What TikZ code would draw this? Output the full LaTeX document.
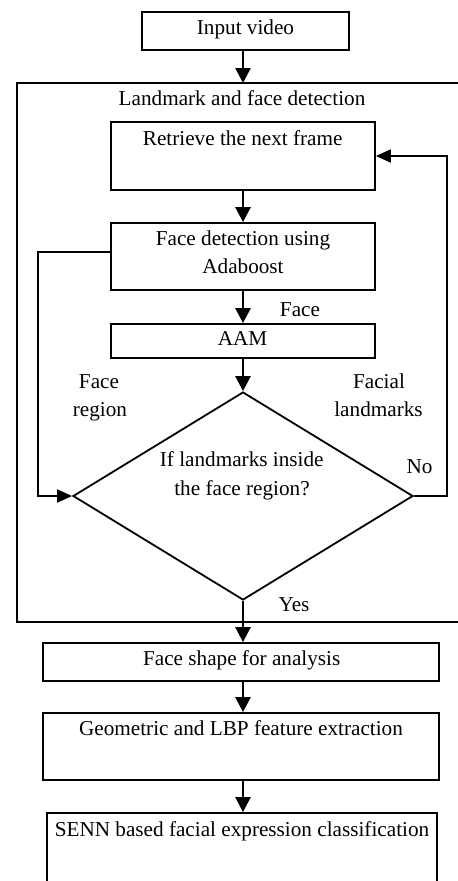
\documentclass[tikz,border=0pt]{standalone}
\usepackage{fontspec}
\setmainfont{Liberation Serif}
\usetikzlibrary{arrows.meta,shapes.geometric}
\begin{document}
\begin{tikzpicture}[x=1bp,y=-1bp,
  every node/.style={font=\fontsize{21.2bp}{28bp}\selectfont, inner sep=0pt},
  stepbox/.style={draw, line width=1.8bp, rectangle},
  txt/.style={anchor=base},
  down/.style={line width=2.6bp, -{Triangle[length=15bp,width=15bp]}},
  loopline/.style={line width=1.8bp, -{Triangle[length=15bp,width=13bp]}},
]
\useasboundingbox (0,0) rectangle (458,881);
\clip (0,0) rectangle (458,881);
\fill[white] (0,0) rectangle (458,881);

% container
\draw[line width=1.5bp] (17,83) rectangle (472,622);
\node[txt] (conttitle) at (242,105) {Landmark and face detection};
\coordinate (ctop) at (243,83);

% boxes
\node[stepbox, minimum width=207bp, minimum height=38bp] (inp) at (245.5,31) {};
\node[txt] (inptext) at (245.5,34.3) {Input video};
\node[stepbox, minimum width=264bp, minimum height=68bp] (ret) at (243,156) {};
\node[txt] (rettext) at (242.7,145) {Retrieve the next frame};
\node[stepbox, minimum width=264bp, minimum height=67bp] (fd) at (243,256.5) {};
\node[txt] (fdtext1) at (243,245) {Face detection using};
\node[txt] (fdtext2) at (243,273.3) {Adaboost};
\node[stepbox, minimum width=264bp, minimum height=34bp] (aam) at (243,341) {};
\node[txt] (aamtext) at (242.5,345.5) {AAM};
\node[draw, line width=1.8bp, diamond, minimum width=340bp, minimum height=208bp, shape aspect=1.635] (dec) at (243,496) {};
\node[txt] (dectext1) at (241.7,466.7) {If landmarks inside};
\node[txt] (dectext2) at (242,495) {the face region?};
\node[stepbox, minimum width=396bp, minimum height=38bp] (fsa) at (241,662) {};
\node[txt] (fsatext) at (241.7,665.5) {Face shape for analysis};
\node[stepbox, minimum width=396bp, minimum height=67bp] (geo) at (241,746.5) {};
\node[txt] (geotext) at (241,735) {Geometric and LBP feature extraction};
\node[stepbox, minimum width=390bp, minimum height=140bp] (senn) at (242,883) {};
\node[txt] (senntext) at (242,836) {SENN based facial expression classification};

% labels
\node[txt] (lface) at (300,316) {Face};
\node[txt] (lregion1) at (99,388.3) {Face};
\node[txt] (lregion2) at (100,416) {region};
\node[txt] (llm1) at (379,388.3) {Facial};
\node[txt] (llm2) at (378.5,416) {landmarks};
\node[txt] (lno) at (419.5,473.3) {No};
\node[txt] (lyes) at (294,611.7) {Yes};

% connectors
\draw[down] (inp.south -| ctop) -- (ctop);
\draw[down] (ret.south) -- (fd.north);
\draw[down] (fd.south) -- (aam.north);
\draw[down] (aam.south) -- (dec.north);
\draw[down] (dec.south) -- (fsa.north -| dec.south);
\draw[down] (fsa.south -| dec.south) -- (geo.north -| dec.south);
\draw[down] (geo.south -| dec.south) -- (senn.north -| dec.south);
\draw[loopline] (dec.east) -- ++(33,0) |- (ret.east);
\draw[loopline] ([yshift=4.5bp]fd.west) -- ++(-72,0) |- (dec.west);
\end{tikzpicture}
\end{document}
